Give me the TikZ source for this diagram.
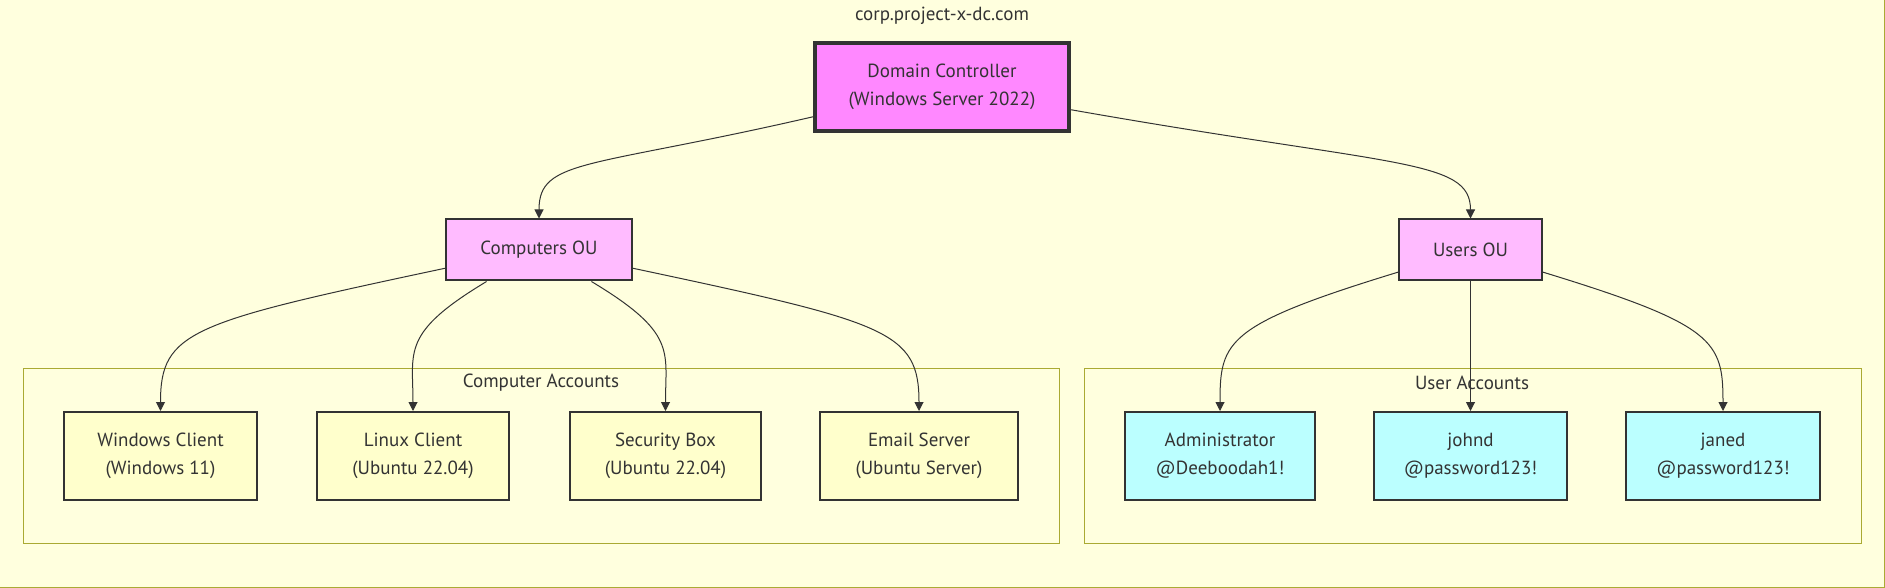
\documentclass[tikz,border=0pt]{standalone}
\usepackage{fontspec}
\setmainfont{PT Sans}
\usetikzlibrary{arrows.meta}
\definecolor{canvas}{HTML}{FFFFDE}
\definecolor{frameline}{HTML}{AAAA33}
\definecolor{inkgray}{HTML}{333333}
\definecolor{dcfill}{HTML}{FF88FF}
\definecolor{oufill}{HTML}{FFBBFF}
\definecolor{hostfill}{HTML}{FFFFCC}
\definecolor{userfill}{HTML}{BBFFFF}
\tikzset{
    box/.style={draw=inkgray, line width=1pt, text=inkgray, align=center, inner sep=0pt, font=\fontsize{9.5}{14}\selectfont},
    dcbox/.style={box, fill=dcfill, line width=2pt, minimum width=127pt, minimum height=44pt},
    oubox/.style={box, fill=oufill, minimum height=30.5pt},
    hostbox/.style={box, fill=hostfill, minimum width=96pt, minimum height=44pt},
    userbox/.style={box, fill=userfill, minimum width=96pt, minimum height=44pt},
    cluster/.style={draw=frameline, line width=0.5pt, fill=canvas},
    caption/.style={text=inkgray, font=\fontsize{9.5}{14}\selectfont},
    link/.style={draw=inkgray, line width=0.5pt, -{Triangle[length=4.5pt, width=4.5pt]}}
}
\begin{document}
\begin{tikzpicture}[x=0.5pt, y=0.5pt]
    \useasboundingbox (0,0) rectangle (1885,-588);
    \draw[cluster] (-2,2) rectangle (1884,-587);
    \node[caption] (domain) at (942,-15.5) {corp.project-x-dc.com};

    \draw[cluster] (23,-368) rectangle (1059,-543);
    \node[caption] (hostlabel) at (541,-383) {Computer Accounts};
    \draw[cluster] (1084,-368) rectangle (1861,-543);
    \node[caption] (userlabel) at (1472,-383) {User Accounts};

    \node[dcbox] (dc) at (942,-87) {Domain Controller\\(Windows Server 2022)};
    \node[oubox, minimum width=93pt] (compou) at (539,-250) {Computers OU};
    \node[oubox, minimum width=71.5pt] (usersou) at (1470.5,-250) {Users OU};

    \node[hostbox, minimum width=96.5pt] (winclient) at (160.5,-456) {Windows Client\\(Windows 11)};
    \node[hostbox] (linuxclient) at (413,-456) {Linux Client\\(Ubuntu 22.04)};
    \node[hostbox, minimum width=95.5pt] (secbox) at (665.5,-456) {Security Box\\(Ubuntu 22.04)};
    \node[hostbox, minimum width=99pt] (mailserver) at (919,-456) {Email Server\\(Ubuntu Server)};

    \node[userbox, minimum width=95pt] (admin) at (1220,-456) {Administrator\\@Deeboodah1!};
    \node[userbox, minimum width=96.5pt] (johnd) at (1470.5,-456) {johnd\\@password123!};
    \node[userbox, minimum width=97pt] (janed) at (1723,-456) {janed\\@password123!};

    \draw[link] (dc.193) .. controls +(193:230) and +(0,60) .. (compou.north);
    \draw[link] (dc.350) .. controls +(350:330) and +(0,60) .. (usersou.north);

    \draw[link] (compou.191) .. controls +(192:260) and +(0,80) .. (winclient.north);
    \draw[link] (compou.211) .. controls +(211:100) and +(0,60) .. (linuxclient.north);
    \draw[link] (compou.329) .. controls +(329:100) and +(0,60) .. (secbox.north);
    \draw[link] (compou.349) .. controls +(348:260) and +(0,80) .. (mailserver.north);

    \draw[link] (usersou.197) .. controls +(197:180) and +(0,70) .. (admin.north);
    \draw[link] (usersou.south) -- (johnd.north);
    \draw[link] (usersou.343) .. controls +(343:180) and +(0,70) .. (janed.north);
\end{tikzpicture}
\end{document}
